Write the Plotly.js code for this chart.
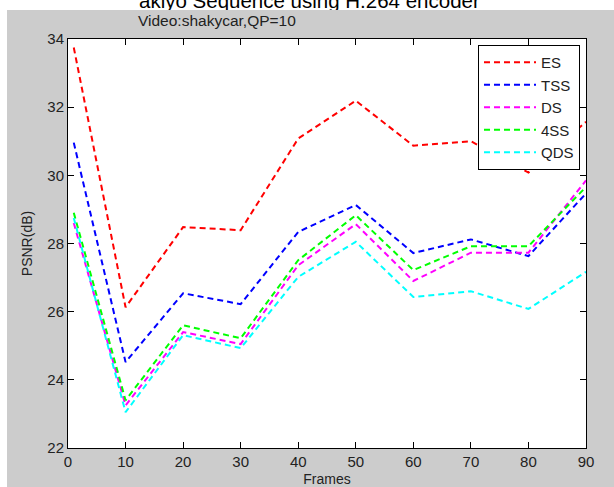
<!DOCTYPE html>
<html>
<head>
<meta charset="utf-8">
<script src="https://cdn.plot.ly/plotly-3.0.1.min.js"></script>
<style>
html,body{margin:0;padding:0;background:#fff;}
#chart{width:614px;height:487px;}
</style>
</head>
<body>
<div id="chart"></div>
<script>
// ---- data ----
const frames = [1, 10, 20, 30, 40, 50, 60, 70, 80, 90];
const seriesNames = ["ES", "TSS", "DS", "4SS", "QDS"];
const ES  = [33.75, 26.13, 28.48, 28.39, 31.08, 32.19, 30.87, 31.00, 30.08, 31.57];
const TSS = [30.96, 24.52, 26.54, 26.22, 28.34, 29.13, 27.72, 28.12, 27.63, 29.47];
const DS  = [28.60, 23.25, 25.40, 25.05, 27.36, 28.57, 26.90, 27.73, 27.73, 29.85];
const FSS = [28.90, 23.40, 25.60, 25.22, 27.51, 28.83, 27.22, 27.92, 27.92, 29.66];
const QDS = [28.75, 23.05, 25.31, 24.93, 27.02, 28.05, 26.43, 26.60, 26.08, 27.17];
const xTicks = [0, 10, 20, 30, 40, 50, 60, 70, 80, 90];
const yTicks = [22, 24, 26, 28, 30, 32, 34];
const titleText = "akiyo Sequence using H.264 encoder";
const subtitleText = "Video:shakycar,QP=10";

// ---- styling ----
const colors = ["#ff0000", "#0000ff", "#ff00ff", "#00ff00", "#00ffff"];
const values = [ES, TSS, DS, FSS, QDS];
const W = 614, H = 487, L = 68, R = 586, T = 39, B = 448;
const px2x = p => (p - L) / (R - L);
const px2y = p => (B - p) / (B - T);
const font = "Arial, 'Liberation Sans', sans-serif";

const traces = values.map((v, i) => ({
  x: frames, y: v, type: "scatter", mode: "lines", name: seriesNames[i],
  line: {color: colors[i], width: 2, dash: "6px,4px"}
}));

const axisCommon = {
  showline: true, linecolor: "#000", linewidth: 1, mirror: "ticks",
  ticks: "inside", ticklen: 6, tickcolor: "#000", tickwidth: 1,
  showgrid: false, zeroline: false,
  tickfont: {family: font, size: 15, color: "#222"}
};

const layout = {
  width: W, height: H,
  margin: {l: L, r: W - R, t: T, b: H - B, pad: 0},
  paper_bgcolor: "#cccccc", plot_bgcolor: "#ffffff",
  showlegend: true,
  xaxis: Object.assign({}, axisCommon, {
    range: [0, 90], tickvals: xTicks, ticktext: xTicks.map(String),
    title: {text: "Frames", font: {family: font, size: 14, color: "#222"}, standoff: 5}
  }),
  yaxis: Object.assign({}, axisCommon, {
    range: [22, 34], tickvals: yTicks, ticktext: yTicks.map(String),
    title: {text: "PSNR(dB)", font: {family: font, size: 14, color: "#222"}, standoff: 11}
  }),
  legend: {
    x: px2x(478), y: px2y(45), xanchor: "left", yanchor: "top",
    bgcolor: "#ffffff", bordercolor: "#000", borderwidth: 1,
    font: {family: font, size: 15, color: "#222"}, itemwidth: 52,
    tracegroupgap: 0
  },
  shapes: [
    {type: "rect", xref: "paper", yref: "paper", layer: "below",
     x0: px2x(0), x1: px2x(W), y0: px2y(10), y1: px2y(0),
     fillcolor: "#ffffff", line: {width: 0}},
    {type: "rect", xref: "paper", yref: "paper", layer: "below",
     x0: px2x(0), x1: px2x(7), y0: px2y(H), y1: px2y(0),
     fillcolor: "#ffffff", line: {width: 0}}
  ],
  annotations: [
    {text: titleText, xref: "paper", yref: "paper", x: px2x(137), y: px2y(1),
     xanchor: "left", yanchor: "middle", showarrow: false,
     font: {family: font, size: 20.5, color: "#000"}},
    {text: subtitleText, xref: "paper", yref: "paper", x: px2x(136), y: px2y(20),
     xanchor: "left", yanchor: "middle", showarrow: false,
     font: {family: font, size: 15.5, color: "#222"}}
  ]
};

Plotly.newPlot("chart", traces, layout, {displayModeBar: false, staticPlot: true}).then(gd => {
  // clip the cut-off title to the white strip at the top
  const svgs = gd.querySelectorAll("svg.main-svg");
  const ns = "http://www.w3.org/2000/svg";
  const top = svgs[svgs.length - 1];
  let defs = top.querySelector("defs");
  if (!defs) { defs = document.createElementNS(ns, "defs"); top.insertBefore(defs, top.firstChild); }
  const cp = document.createElementNS(ns, "clipPath");
  cp.setAttribute("id", "titleclip");
  cp.setAttribute("clipPathUnits", "userSpaceOnUse");
  const r = document.createElementNS(ns, "rect");
  r.setAttribute("x", 0); r.setAttribute("y", -20);
  r.setAttribute("width", W); r.setAttribute("height", 30);
  cp.appendChild(r); defs.appendChild(cp);
  const ann = gd.querySelector('.annotation[data-index="0"]');
  if (ann) ann.setAttribute("clip-path", "url(#titleclip)");
});
</script>
</body>
</html>
